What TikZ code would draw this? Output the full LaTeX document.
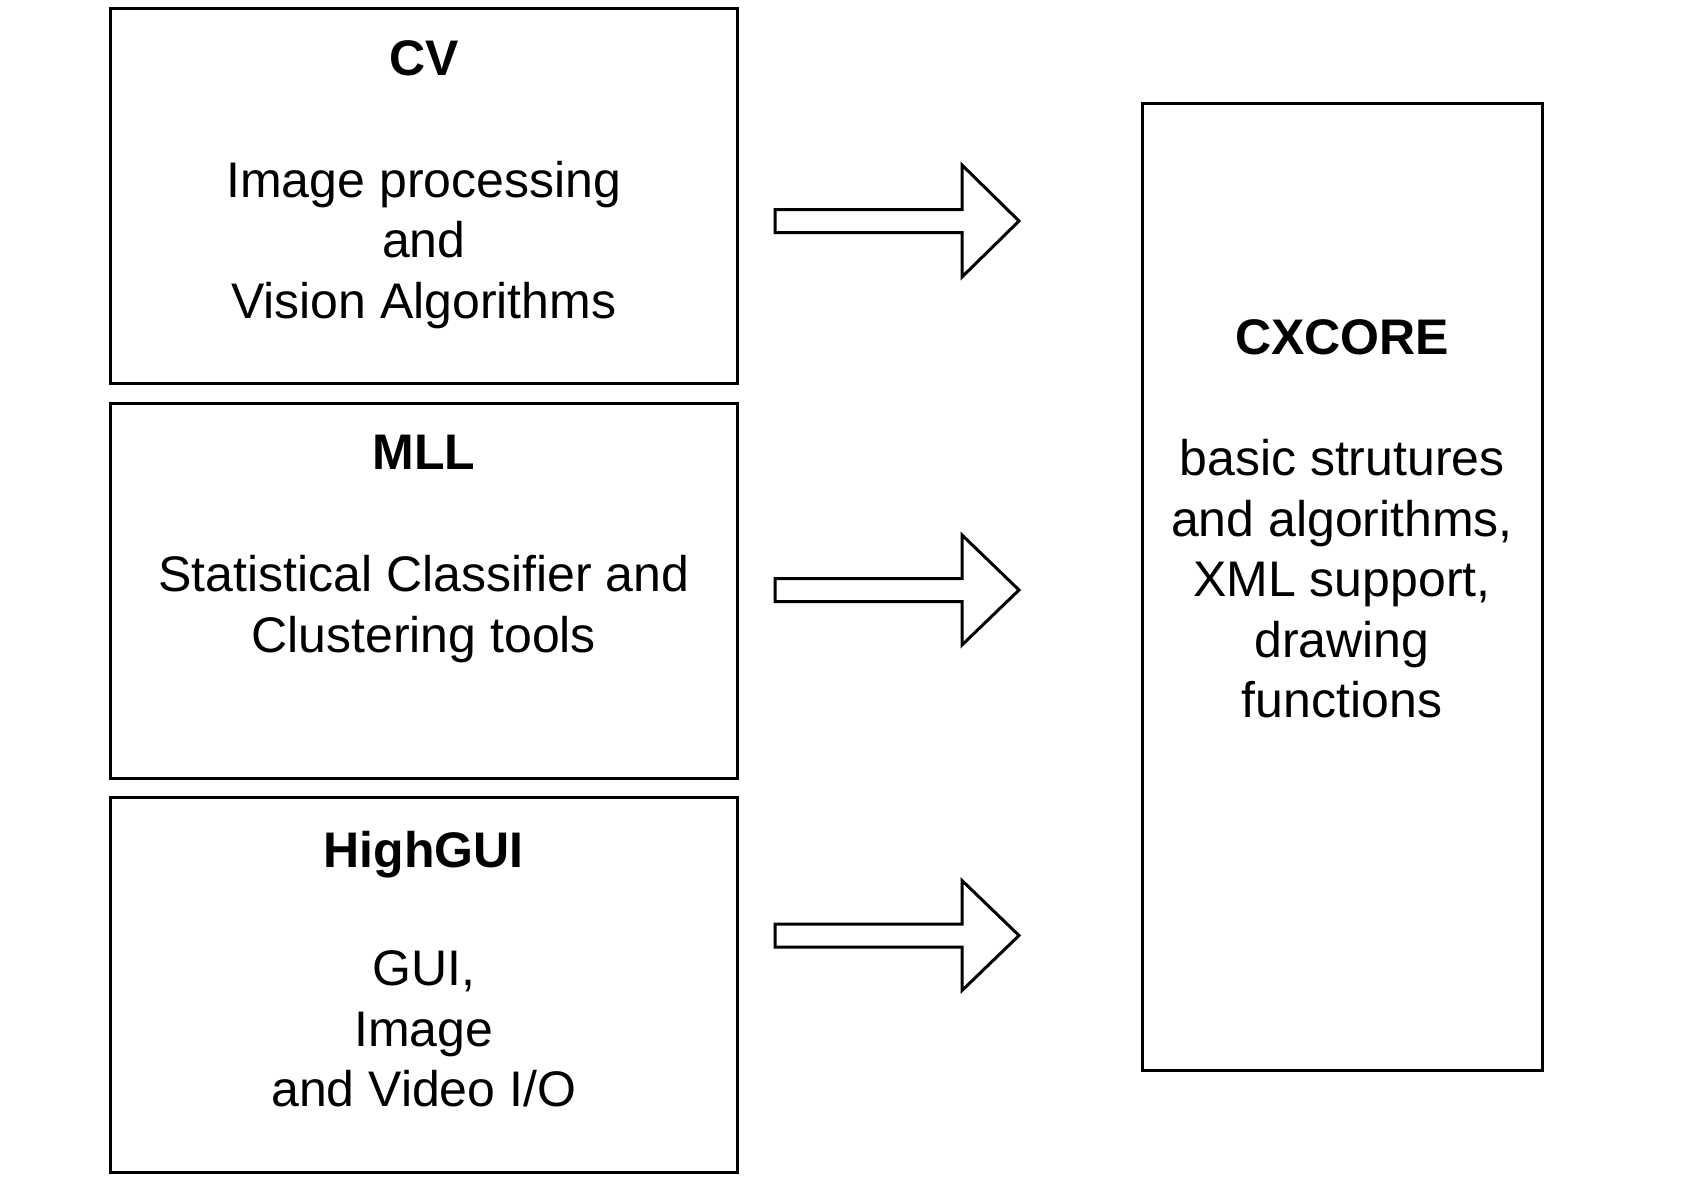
\documentclass[tikz,border=0pt]{standalone}
\usepackage{fontspec}
\setmainfont{Liberation Sans}
\usetikzlibrary{positioning}
\tikzset{
    modbox/.style={
        rectangle,
        draw=black,
        line width=1.5pt, % 边框加粗
        outer sep=0pt,
        inner sep=0pt
    },
    modtitle/.style={
        inner sep=0pt,
        anchor=north,
        font=\fontsize{25}{30.25}\selectfont\bfseries
    },
    modtext/.style={
        inner sep=0pt,
        anchor=north,
        align=center,
        font=\fontsize{25}{30.25}\selectfont
    },
    blockarrow/.style={
        draw=black,
        line width=1.5pt,
        line join=miter
    }
}
\begin{document}
\begin{tikzpicture}[x=0.5pt,y=-0.5pt]
    \useasboundingbox (0,0) rectangle (1681,1177);
    % 左侧三个模块
    \node[modbox, minimum width=313.25pt, minimum height=187.5pt] (cv) at (423.75,196) {};
    \node[modbox, minimum width=313.25pt, minimum height=187.5pt, below=9.75pt of cv] (mll) {};
    \node[modbox, minimum width=313.25pt, minimum height=187.5pt, below=9.75pt of mll] (hg) {};
    % 右侧 CXCORE
    \node[modbox, minimum width=200pt, minimum height=483pt] (cx) at (1342,587) {};
    % 标题与说明
    \node[modtitle, below=16pt of cv.north] (cvtitle) {CV};
    \node[modtext, below=60pt of cvtitle.north] (cvtext) {Image processing\\and\\Vision Algorithms};
    \node[modtitle, below=16pt of mll.north] (mlltitle) {MLL};
    \node[modtext, below=60pt of mlltitle.north] (mlltext) {Statistical Classifier and\\Clustering tools};
    \node[modtitle, below=16.5pt of hg.north] (hgtitle) {HighGUI};
    \node[modtext, below=60pt of hgtitle.north] (hgtext) {GUI,\\Image\\and Video I/O};
    \node[modtitle, below=107.5pt of cx.north] (cxtitle) {CXCORE};
    \node[modtext, below=60pt of cxtitle.north] (cxtext) {basic strutures\\and algorithms,\\XML support,\\drawing\\functions};
    % 空心箭头
    \foreach \y/\h in {221/56, 590/55, 935.5/55} {
        \draw[blockarrow] (775,\y+11.5) -- (962,\y+11.5) -- (962,\y+\h) -- (1019,\y)
            -- (962,\y-\h) -- (962,\y-11.5) -- (775,\y-11.5) -- cycle;
    }
\end{tikzpicture}
\end{document}
